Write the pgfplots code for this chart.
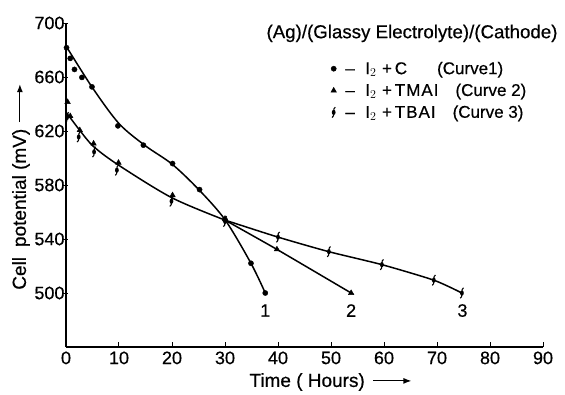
\documentclass[border=0pt]{standalone}
\usepackage{fontspec}
\setmainfont{Liberation Sans}[FakeBold=0.5]
\usepackage{pgfplots}
\pgfplotsset{compat=1.18}
\usetikzlibrary{arrows.meta}

% hook-shaped marker used for the TBAI cell
\pgfdeclareplotmark{tbai}{%
  \pgfpathellipse{\pgfpointorigin}{\pgfpoint{1.9pt}{0pt}}{\pgfpoint{0pt}{2.6pt}}%
  \pgfusepathqfill
  \pgfsetlinewidth{1.1pt}%
  \pgfpathmoveto{\pgfpoint{1.6pt}{5.2pt}}%
  \pgfpathcurveto{\pgfpoint{0.2pt}{5.2pt}}{\pgfpoint{0pt}{2.5pt}}{\pgfpoint{0pt}{0pt}}%
  \pgfpathcurveto{\pgfpoint{0pt}{-2.5pt}}{\pgfpoint{-0.2pt}{-5.2pt}}{\pgfpoint{-1.6pt}{-5.2pt}}%
  \pgfusepathqstroke
}

% Curve 1: I2 + C
\pgfplotstableread{
t   E
0.1 681.7
0.8 673.8
1.6 665.6
3.0 659.7
4.9 652.7
9.8 623.8
14.6 609.5
20.1 595.9
25.2 576.6
30.0 554.3
34.9 522.0
37.6 500.0
}\curveone

% Curve 2: I2 + TMAI
\pgfplotstableread{
t   E
0.3 641.5
0.8 631.0
2.6 620.6
5.2 610.7
9.9 596.5
20.1 572.4
30.0 555.0
39.8 532.3
53.8 500.0
}\curvetwo

% Curve 3: I2 + TBAI
\pgfplotstableread{
t   E
0.2 630.0
2.4 615.6
5.3 604.5
9.6 591.0
19.9 568.0
30.0 553.0
40.0 541.4
49.6 530.6
59.6 521.0
69.4 509.5
74.7 500.0
}\curvethree

% fitted lines drawn through the points
\pgfplotstableread{
t E
0.0 683.0
5.0 652.0
10.0 625.5
15.0 609.0
20.0 595.5
25.0 576.8
30.0 554.3
34.9 522.0
37.6 500.0
}\lineone
\pgfplotstableread{
t E
0.0 634.0
2.5 621.0
5.2 608.5
10.0 594.5
20.0 570.5
30.0 554.0
}\common
\pgfplotstableread{
t E
30.0 554.0
39.8 532.3
53.8 500.0
}\branchtwo
\pgfplotstableread{
t E
30.0 554.0
40.0 541.4
49.6 530.6
59.6 521.0
69.4 509.5
74.7 500.0
}\branchthree

\begin{document}
\begin{tikzpicture}
\begin{axis}[
  scale only axis, width=477pt, height=324pt,
  xmin=0, xmax=90, ymin=460, ymax=700,
  axis lines*=left,
  axis line style={line width=1.1pt},
  xtick={0,10,...,90}, ytick={500,540,...,700},
  tick align=inside, major tick length=5pt,
  tick style={line width=1pt, black},
  ytick style={xshift=-3pt},
  tick label style={font=\fontsize{18}{18}\selectfont},
  xticklabel style={yshift=-1pt},
  yticklabel style={xshift=2pt},
  /pgf/number format/assume math mode=true,
  xlabel={Time ( Hours)\hspace{8pt}\tikz[baseline=-0.6ex]\draw[line width=1.2pt,-{Latex[length=8pt,width=6pt]}] (0,0)--(38pt,0);},
  xlabel style={font=\fontsize{19}{19}\selectfont, at={(rel axis cs:0.555,0)}, anchor=center, yshift=-35pt},
  ylabel={Cell\hspace{10pt}potential (mV)\hspace{6pt}\tikz[baseline=-0.6ex]\draw[line width=1.2pt,-{Latex[length=8pt,width=6pt]}] (0,0)--(38pt,0);},
  ylabel style={font=\fontsize{19}{19}\selectfont, at={(rel axis cs:0,0.495)}, anchor=center, yshift=45pt},
  clip=false,
  legend cell align=left,
  legend style={draw=none, fill=none, inner sep=0pt,
    at={(rel axis cs:0.555,0.887)}, anchor=north west,
    font=\fontsize{17}{20}\selectfont, row sep=4pt},
  legend image code/.code={\draw[only marks] plot coordinates {(0.12cm,0cm)};},
]
% lines
\addplot[line width=1.5pt, smooth, tension=0.5, forget plot] table[x=t,y=E] {\lineone};
\addplot[line width=1.5pt, smooth, tension=0.5, forget plot] table[x=t,y=E] {\common};
\addplot[line width=1.5pt, smooth, tension=0.3, forget plot] table[x=t,y=E] {\branchtwo};
\addplot[line width=1.5pt, smooth, tension=0.4, forget plot] table[x=t,y=E] {\branchthree};
% measured points
\addplot[only marks, mark=*, mark size=2.6pt, black] table[x=t,y=E] {\curveone};
\addlegendentry{\hspace{7pt}--\,\, $\mathrm{I}_2$\,\,+\,C\hspace{30pt}(Curve1)}
\addplot[only marks, mark=triangle*, mark size=3.2pt, black] table[x=t,y=E] {\curvetwo};
\addlegendentry{\hspace{7pt}--\,\, $\mathrm{I}_2$\,\,+\,T\kern1ptM\kern1ptA\kern1ptI\hspace{17pt}(Curve 2)}
\addplot[only marks, mark=tbai, black] table[x=t,y=E] {\curvethree};
\addlegendentry{\hspace{7pt}--\,\, $\mathrm{I}_2$\,\,+\,T\kern1ptB\kern1ptA\kern1ptI\hspace{17pt}(Curve 3)}
% curve numbers
\node[font=\fontsize{18}{18}\selectfont] at (axis cs:37.6,487) {1};
\node[font=\fontsize{18}{18}\selectfont] at (axis cs:53.8,487) {2};
\node[font=\fontsize{18}{18}\selectfont] at (axis cs:74.8,487) {3};
\node[font=\fontsize{18.7}{18.7}\selectfont, anchor=west] at (rel axis cs:0.413,0.968) {(Ag)/(Glassy Electrolyte)/(Cathode)};
\coordinate (sw) at (rel axis cs:0,0);
\coordinate (ne) at (rel axis cs:1,1);
\end{axis}
\pgfresetboundingbox
\path[use as bounding box] ([shift={(-66pt,-47pt)}]sw) rectangle ([shift={(22pt,23pt)}]ne);
\end{tikzpicture}
\end{document}
